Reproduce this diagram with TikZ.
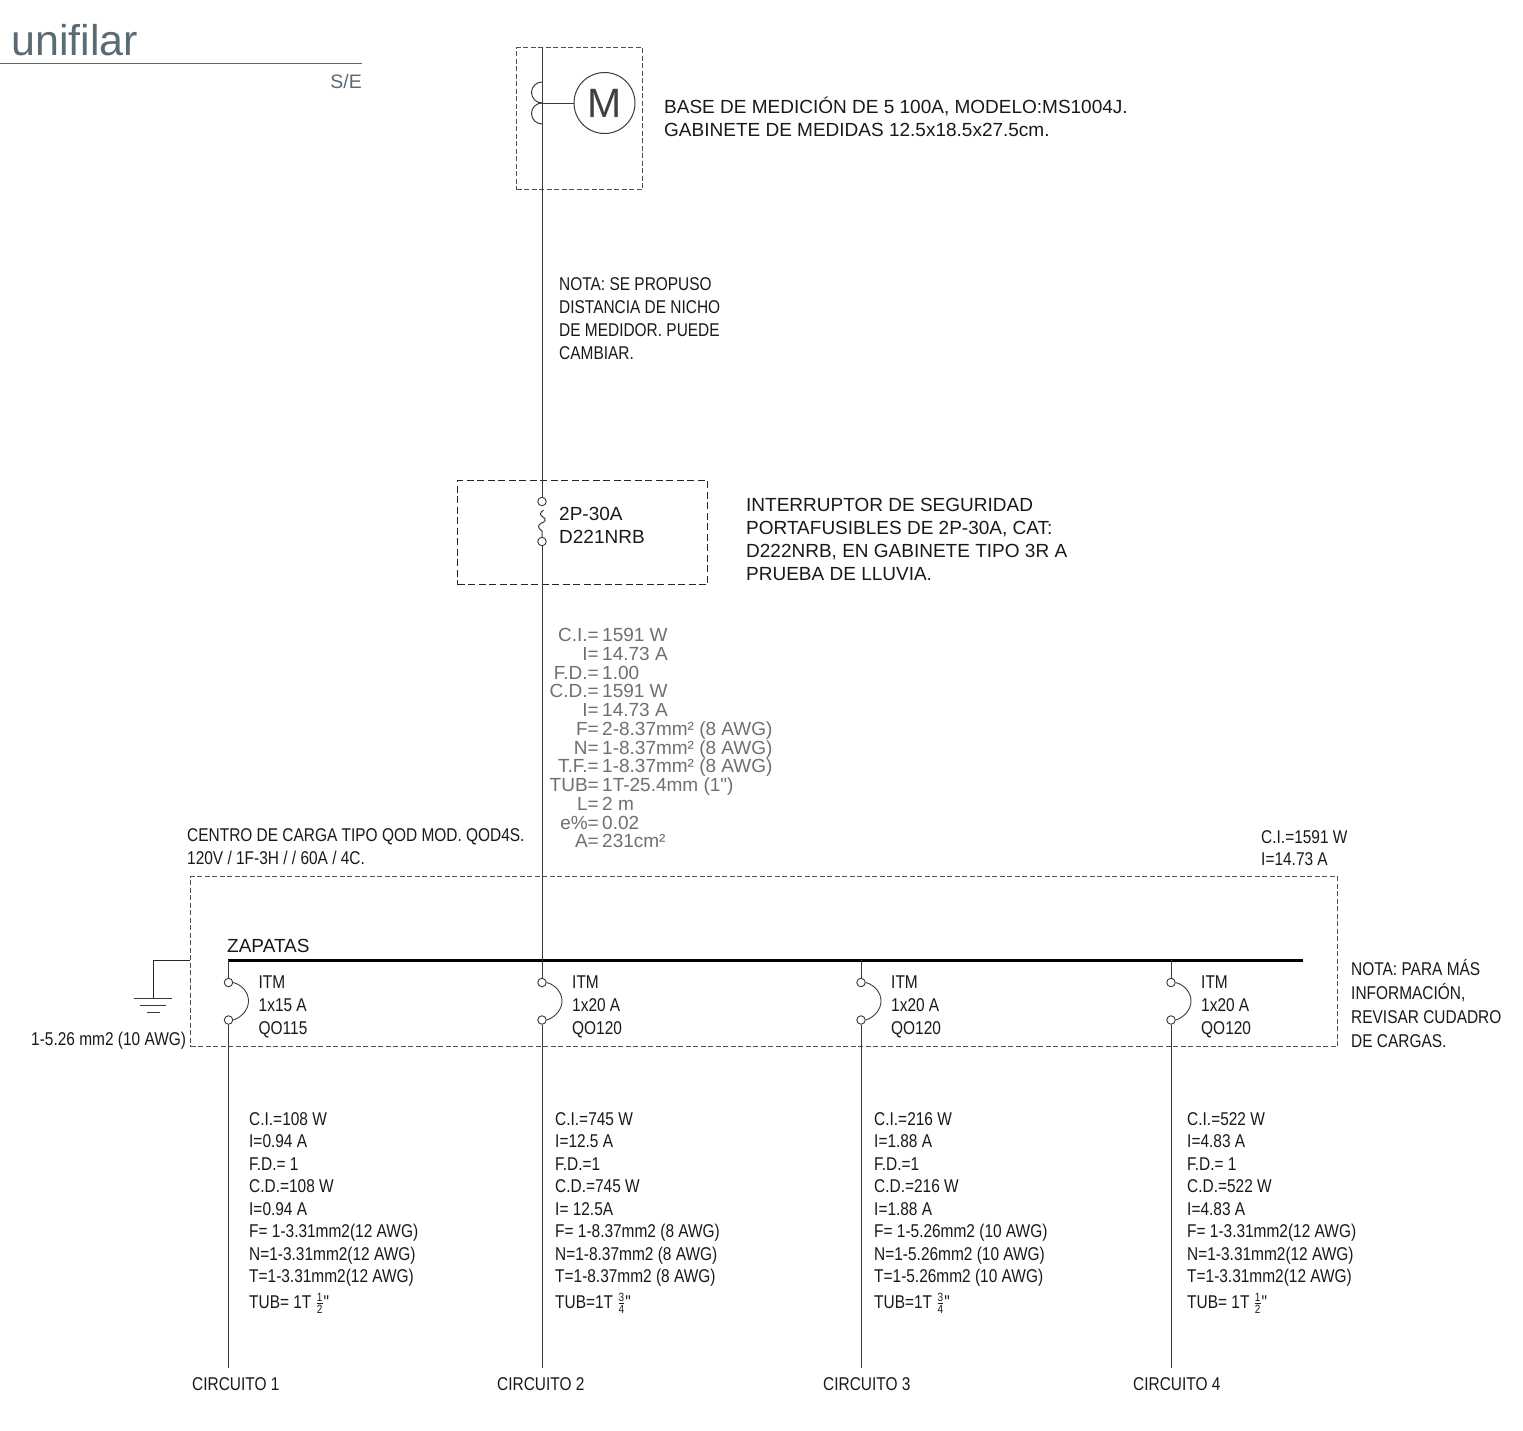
\documentclass[tikz,border=0pt]{standalone}
\usepackage{fontspec}
\setmainfont{Liberation Sans}
\newfontfamily\plainf{Liberation Sans}
\newfontfamily\narrowf[FakeStretch=0.835]{Liberation Sans}
\newcommand\fracstk[2]{$\frac{\hbox{\narrowf\fontsize{12}{10}\selectfont #1}}{\hbox{\narrowf\fontsize{12}{10}\selectfont #2}}$}
\definecolor{titlec}{HTML}{5B6B76}
\definecolor{greytxt}{HTML}{6F6F6F}
\definecolor{linec}{HTML}{3A3A3A}
\definecolor{dashc}{HTML}{505050}
\tikzset{
  wire/.style={draw=linec,line width=1pt},
  dashbox/.style={draw=dashc,line width=1.2pt,dash pattern=on 5pt off 2.5pt},
  term/.style={circle,draw=linec,line width=0.9pt,fill=white,minimum size=8.5pt,inner sep=0pt},
  txt/.style={anchor=base west,inner sep=0pt,yshift=-1pt,font=\fontsize{19}{20}\selectfont,text=black!90},
  ntxt/.style={anchor=base west,inner sep=0pt,yshift=-1pt,font=\narrowf\fontsize{18.5}{20}\selectfont,text=black!90},
  lab/.style={anchor=base east,inner sep=0pt,yshift=-1pt,font=\fontsize{19}{20}\selectfont,text=greytxt},
  val/.style={anchor=base west,inner sep=0pt,yshift=-1pt,font=\fontsize{19}{20}\selectfont,text=greytxt},
}
\begin{document}
\begin{tikzpicture}[x=1pt,y=-1pt]
\useasboundingbox (0,0) rectangle (1523,1430);
% title
\node[anchor=base west,inner sep=0pt,font=\fontsize{43}{46}\selectfont,text=titlec] (title) at (11,55) {unifilar};
\coordinate (tl) at (0,63); \coordinate (tr) at (362,63);
\draw[draw=gray!80!black,line width=1pt] (tl) -- (tr);
\node[anchor=base east,inner sep=0pt,font=\fontsize{19.5}{20}\selectfont,text=titlec] (scale) at (362,88) {S/E};
% meter
\node[dashbox,minimum width=126pt,minimum height=142pt,inner sep=0pt,anchor=north west] (meterbox) at (516,47) {};
\node[circle,draw=linec,line width=1pt,minimum size=61pt,inner sep=0pt,font=\fontsize{41}{44}\selectfont,text=black!75] (meter) at (604.5,103) {M};
\coordinate (mtop) at (542,47);
\coordinate (mtap) at (542,103);
\coordinate (c1a) at (542,82);
\draw[wire] (mtap) -- (meter.west);
\draw[wire] (c1a) arc[start angle=-90,end angle=-270,radius=10.5];
\draw[wire] (mtap) arc[start angle=-90,end angle=-270,radius=10.5];
\node[txt] (b1) at (664,112) {BASE DE MEDICIÓN DE 5 100A, MODELO:MS1004J.};
\node[txt] (b2) at (664,135) {GABINETE DE MEDIDAS 12.5x18.5x27.5cm.};
% nota 1
\foreach \i/\t in {0/{NOTA: SE PROPUSO},1/{DISTANCIA DE NICHO},2/{DE MEDIDOR. PUEDE},3/{CAMBIAR.}}
  \node[ntxt] (nota\i) at (559,{289+23*\i}) {\t};
% fuse
\node[dashbox,draw=black!85,line width=1.1pt,dash pattern=on 7pt off 3.5pt,minimum width=250pt,minimum height=104pt,inner sep=0pt,anchor=north west] (fusebox) at (457,480) {};
\node[term] (f1) at (542,501.5) {};
\node[term] (f2) at (542,541.5) {};
\draw[wire] (mtop) -- (f1);
\draw[wire] (543.5,510) .. controls (539.5,513) and (539.5,515) .. (543,517)
  .. controls (546.5,519) and (545.5,522) .. (541.5,523)
  .. controls (537.5,525) and (537.5,528) .. (542,531) -- (f2);
\node[txt] (f3) at (559,519) {2P-30A};
\node[txt] (f4) at (559,542) {D221NRB};
\foreach \i/\t in {0/{INTERRUPTOR DE SEGURIDAD},1/{PORTAFUSIBLES DE 2P-30A, CAT:},2/{D222NRB, EN GABINETE TIPO 3R A},3/{PRUEBA DE LLUVIA.}}
  \node[txt] (int\i) at (746,{510+23*\i}) {\t};
% table
\foreach \i/\a/\b in {0/{C.I.=}/{1591 W},1/{I=}/{14.73 A},2/{F.D.=}/{1.00},3/{C.D.=}/{1591 W},4/{I=}/{14.73 A},5/{F=}/{2-8.37mm² (8 AWG)},6/{N=}/{1-8.37mm² (8 AWG)},7/{T.F.=}/{1-8.37mm² (8 AWG)},8/{TUB=}/{{\plainf 1T-25.4mm (1")}},9/{L=}/{2 m},10/{e\%=}/{0.02},11/{A=}/{231cm²}}{
  \node[lab] (la\i) at (599,{640.5+18.75*\i}) {\a};
  \node[val] (va\i) at (602,{640.5+18.75*\i}) {\b};
}
\node[ntxt] (cc1) at (187,840) {CENTRO DE CARGA TIPO QOD MOD. QOD4S.};
\node[ntxt] (cc2) at (187,863) {120V / 1F-3H / / 60A / 4C.};
\node[ntxt] (tt1) at (1261,842) {C.I.=1591 W};
\node[ntxt] (tt2) at (1261,864) {I=14.73 A};
% panel
\node[dashbox,minimum width=1147pt,minimum height=170pt,inner sep=0pt,anchor=north west] (panel) at (190,876) {};
\node[txt] (zap) at (227,951) {ZAPATAS};
\coordinate (busl) at (228,960); \coordinate (busr) at (1303,960);
\draw[draw=black,line width=3pt] (busl) -- (busr);
% ground
\coordinate (g0) at (190,960); \coordinate (g1) at (153,960); \coordinate (g2) at (153,998);
\draw[draw=black!85,line width=1pt] (g0) -- (g1) -- (g2);
\coordinate (g3a) at (134,998); \coordinate (g3b) at (172,998);
\coordinate (g4a) at (140,1005); \coordinate (g4b) at (166,1005);
\coordinate (g5a) at (147,1012.5); \coordinate (g5b) at (160,1012.5);
\draw[wire] (g3a) -- (g3b) (g4a) -- (g4b) (g5a) -- (g5b);
\node[ntxt] (gl) at (31,1044) {1-5.26 mm2 (10 AWG)};
% breakers
\foreach \n/\x/\la/\lb/\lc in {1/228.5/{ITM}/{1x15 A}/{QO115},2/542/{ITM}/{1x20 A}/{QO120},3/861/{ITM}/{1x20 A}/{QO120},4/1171/{ITM}/{1x20 A}/{QO120}}{
  \node[term] (ta\n) at (\x,982.5) {};
  \node[term] (tb\n) at (\x,1020) {};
  \coordinate (busp\n) at (\x,960);
  \coordinate (end\n) at (\x,1368);
  \draw[wire] (tb\n) -- (end\n);
  \draw[wire,line width=0.9pt] (ta\n.east) .. controls (\x+14,985) and (\x+20,993) .. (\x+20,1001)
     .. controls (\x+20,1009) and (\x+14,1017) .. (tb\n.east);
  \node[ntxt] (la\n) at (\x+30,987) {\la};
  \node[ntxt] (lb\n) at (\x+30,1010) {\lb};
  \node[ntxt] (lc\n) at (\x+30,1033) {\lc};
}
\draw[wire] (busp1) -- (ta1);
\draw[wire] (f2) -- (ta2);
\draw[wire] (busp3) -- (ta3);
\draw[wire] (busp4) -- (ta4);
\foreach \i/\t in {0/{NOTA: PARA MÁS},1/{INFORMACIÓN,},2/{REVISAR CUDADRO},3/{DE CARGAS.}}
  \node[ntxt] (notb\i) at (1351,{974+24.3*\i}) {\t};
% circuits
\foreach \i/\t in {0/{C.I.=108 W},1/{I=0.94 A},2/{F.D.= 1},3/{C.D.=108 W},4/{I=0.94 A},5/{F= 1-3.31mm2(12 AWG)},6/{N=1-3.31mm2(12 AWG)},7/{T=1-3.31mm2(12 AWG)},8/{TUB= 1T \fracstk{1}{2}\char34}}
  \node[ntxt] (ca\i) at (249,{1124+22.5*\i+(\i==8?3:0)}) {\t};
\foreach \i/\t in {0/{C.I.=745 W},1/{I=12.5 A},2/{F.D.=1},3/{C.D.=745 W},4/{I= 12.5A},5/{F= 1-8.37mm2 (8 AWG)},6/{N=1-8.37mm2 (8 AWG)},7/{T=1-8.37mm2 (8 AWG)},8/{TUB=1T \fracstk{3}{4}\char34}}
  \node[ntxt] (cb\i) at (555,{1124+22.5*\i+(\i==8?3:0)}) {\t};
\foreach \i/\t in {0/{C.I.=216 W},1/{I=1.88 A},2/{F.D.=1},3/{C.D.=216 W},4/{I=1.88 A},5/{F= 1-5.26mm2 (10 AWG)},6/{N=1-5.26mm2 (10 AWG)},7/{T=1-5.26mm2 (10 AWG)},8/{TUB=1T \fracstk{3}{4}\char34}}
  \node[ntxt] (cc\i) at (874,{1124+22.5*\i+(\i==8?3:0)}) {\t};
\foreach \i/\t in {0/{C.I.=522 W},1/{I=4.83 A},2/{F.D.= 1},3/{C.D.=522 W},4/{I=4.83 A},5/{F= 1-3.31mm2(12 AWG)},6/{N=1-3.31mm2(12 AWG)},7/{T=1-3.31mm2(12 AWG)},8/{TUB= 1T \fracstk{1}{2}\char34}}
  \node[ntxt] (cd\i) at (1187,{1124+22.5*\i+(\i==8?3:0)}) {\t};
\node[ntxt] (k1) at (192,1389) {CIRCUITO 1};
\node[ntxt] (k2) at (497,1389) {CIRCUITO 2};
\node[ntxt] (k3) at (823,1389) {CIRCUITO 3};
\node[ntxt] (k4) at (1133,1389) {CIRCUITO 4};
\end{tikzpicture}
\end{document}
